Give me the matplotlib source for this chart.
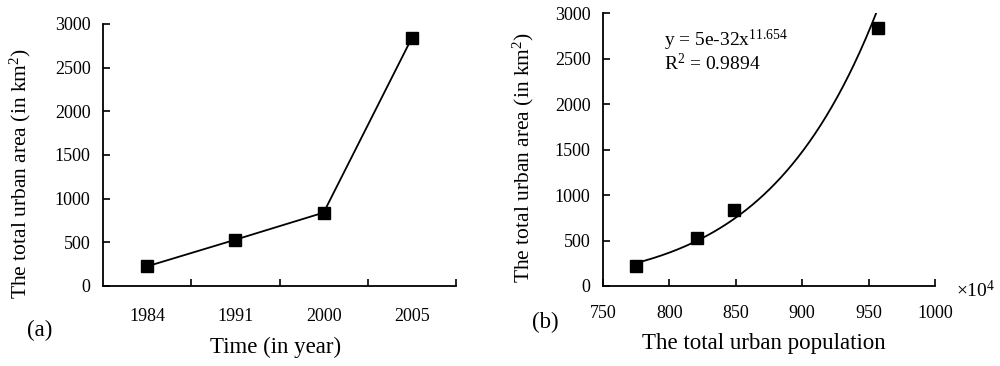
import numpy as np
import matplotlib
matplotlib.use("Agg")
import matplotlib.pyplot as plt
from matplotlib.ticker import FixedLocator, NullFormatter

plt.rcParams['font.family'] = ['Liberation Serif', 'DejaVu Serif']
plt.rcParams['mathtext.fontset'] = 'custom'
plt.rcParams['mathtext.rm'] = 'Liberation Serif'
plt.rcParams['mathtext.it'] = 'Liberation Serif:italic'

# ---- data ----
years = ['1984', '1991', '2000', '2005']
area = [225, 530, 840, 2840]
population = [775, 821, 849, 957]   # x 10^4
fit_eq = 'y = 5e-32x$^{11.654}$'
fit_r2 = 'R$^2$ = 0.9894'

TICK_FS = 13
LABEL_FS = 16.5
YLABEL_FS = 15.5

fig = plt.figure(figsize=(10, 3.66), dpi=100)

# ---- panel (a) ----
ax1 = fig.add_axes([0.103, 0.2186, 0.353, 0.716])
xpos = np.arange(len(years))
ax1.plot(xpos, area, color='black', lw=1.3, marker='s', ms=8.3,
         mfc='black', mec='black')
ax1.set_xlim(-0.5, len(years) - 0.5)
ax1.set_ylim(0, 3000)
ax1.set_yticks(np.arange(0, 3001, 500))
ax1.set_xticks(xpos)
ax1.set_xticklabels(years)
ax1.xaxis.set_minor_locator(FixedLocator(np.arange(0.5, len(years), 1.0)))
ax1.xaxis.set_minor_formatter(NullFormatter())
ax1.tick_params(axis='x', which='major', length=0, pad=16, labelsize=TICK_FS)
ax1.tick_params(axis='x', which='minor', direction='in', length=5, width=1.2)
ax1.tick_params(axis='y', direction='in', length=5, width=1.2, pad=9,
                labelsize=TICK_FS)
for s in ['top', 'right']:
    ax1.spines[s].set_visible(False)
for s in ['left', 'bottom']:
    ax1.spines[s].set_linewidth(1.3)
ax1.set_xlabel('Time (in year)', fontsize=LABEL_FS)
ax1.set_ylabel('The total urban area (in km$^2$)', fontsize=YLABEL_FS)
ax1.xaxis.set_label_coords(0.49, -0.233)
ax1.xaxis.label.set_va('center')
ax1.yaxis.set_label_coords(-0.235, 0.43)
ax1.yaxis.label.set_va('center')
fig.text(0.027, 0.098, '(a)', fontsize=LABEL_FS, ha='left', va='center')

# ---- panel (b) ----
ax2 = fig.add_axes([0.603, 0.2186, 0.332, 0.7455])
ax2.plot(population, area, linestyle='none', marker='s', ms=8.3,
         mfc='black', mec='black')
b, a = np.polyfit(np.log(population), np.log(area), 1)
xf = np.linspace(min(population), max(population), 300)
ax2.plot(xf, np.exp(a) * xf ** b, color='black', lw=1.3)
ax2.set_xlim(750, 1000)
ax2.set_ylim(0, 3000)
ax2.set_xticks(np.arange(750, 1001, 50))
ax2.set_yticks(np.arange(0, 3001, 500))
ax2.tick_params(axis='x', direction='in', length=5, width=1.2, pad=14,
                labelsize=TICK_FS)
ax2.tick_params(axis='y', direction='in', length=5, width=1.2, pad=9,
                labelsize=TICK_FS)
for s in ['top', 'right']:
    ax2.spines[s].set_visible(False)
for s in ['left', 'bottom']:
    ax2.spines[s].set_linewidth(1.3)
ax2.set_xlabel('The total urban population', fontsize=LABEL_FS)
ax2.set_ylabel('The total urban area (in km$^2$)', fontsize=YLABEL_FS)
ax2.xaxis.set_label_coords(0.485, -0.209)
ax2.xaxis.label.set_va('center')
ax2.yaxis.set_label_coords(-0.241, 0.47)
ax2.yaxis.label.set_va('center')
ax2.text(0.185, 0.90, fit_eq, transform=ax2.transAxes, fontsize=14,
         ha='left', va='center')
ax2.text(0.185, 0.815, fit_r2, transform=ax2.transAxes, fontsize=14,
         ha='left', va='center')
fig.text(0.956, 0.205, r'$\times$10$^4$', fontsize=14, ha='left', va='center')
fig.text(0.532, 0.118, '(b)', fontsize=LABEL_FS, ha='left', va='center')

fig.savefig('out.png', dpi=100)
